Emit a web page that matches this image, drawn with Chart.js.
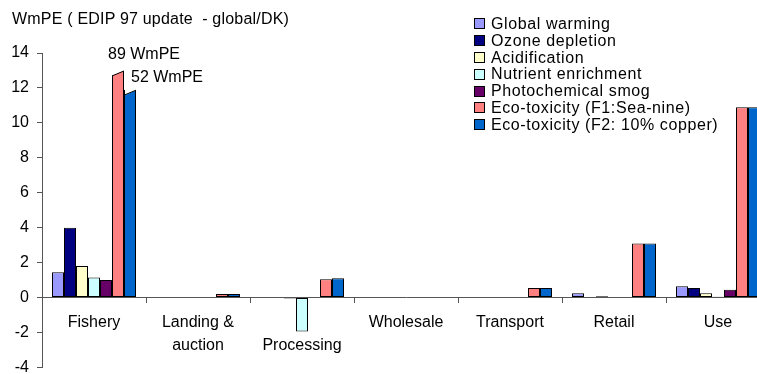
<!DOCTYPE html>
<html>
<head>
<meta charset="utf-8">
<script src="https://cdn.jsdelivr.net/npm/chart.js@4.4.1/dist/chart.umd.min.js"></script>
<style>
  html, body { margin: 0; padding: 0; background: #fff; overflow: hidden; }
  body { width: 757px; height: 374px; position: relative; font-family: "Liberation Sans", Arial, sans-serif; color: #000; }
  #wrap { position: absolute; left: 0; top: 0; width: 757px; height: 374px; overflow: hidden; }
  #chart { position: absolute; left: 0; top: 0; }
  #title { position: absolute; left: 12px; top: 10px; font-size: 16px; line-height: 18px; white-space: pre; letter-spacing: 0.2px; }
  #legend { position: absolute; left: 474px; top: 15.6px; font-size: 16px; }
  .row { display: flex; align-items: center; height: 16.8px; white-space: nowrap; letter-spacing: 0.6px; }
  .box { width: 9px; height: 9px; border: 1px solid #000; margin-right: 6px; flex: none; }
</style>
</head>
<body>
<div id="wrap"><canvas id="chart" width="775" height="385"></canvas></div>
<div id="title">WmPE ( EDIP 97 update  - global/DK)</div>
<div id="legend"></div>
<script>
// categories along the x axis (arrays = multi-line labels)
const categories = ["Fishery", ["Landing &", "auction"], ["", "Processing"], "Wholesale", "Transport", "Retail", "Use"];

// series values (WmPE)
const globalWarming      = [1.45, null, null,  null, null, 0.25, 0.65];
const ozoneDepletion     = [4.0,  null, null,  null, null, null, 0.55];
const acidification      = [1.8,  null, -0.05, null, null, 0.08, 0.25];
const nutrientEnrichment = [1.15, null, -1.95, null, null, null, 0.05];
const photochemicalSmog  = [1.0,  null, null,  null, null, null, 0.45];
const ecoToxSeaNine      = [13.0, 0.2,  1.05,  null, 0.55, 3.1,  10.9];
const ecoToxCopper       = [11.9, 0.2,  1.1,   null, 0.55, 3.1,  10.9];

const seriesNames = [
  "Global warming", "Ozone depletion", "Acidification", "Nutrient enrichment",
  "Photochemical smog", "Eco-toxicity (F1:Sea-nine)", "Eco-toxicity (F2: 10% copper)"
];
const seriesColors = ["#9999FF", "#000080", "#FFFFCC", "#CCFFFF", "#660066", "#FF8080", "#0066CC"];
const seriesValues = [globalWarming, ozoneDepletion, acidification, nutrientEnrichment,
  photochemicalSmog, ecoToxSeaNine, ecoToxCopper];

// y axis ticks
const yMin = -4, yMax = 14, yStep = 2;

// labels above the cut-off Fishery eco-toxicity bars
const breakLabels = ["89 WmPE", "52 WmPE"];

const fontFamily = '"Liberation Sans", Arial, sans-serif';
const axisColor = "#555";

// legend as html
const legendEl = document.getElementById("legend");
seriesNames.forEach((name, i) => {
  const row = document.createElement("div");
  row.className = "row";
  const box = document.createElement("span");
  box.className = "box";
  box.style.background = seriesColors[i];
  row.appendChild(box);
  row.appendChild(document.createTextNode(name));
  legendEl.appendChild(row);
});

// cut the top of the two off-scale bars at a slant and write their real totals
const breakPlugin = {
  id: "breakTops",
  afterDatasetsDraw(chart) {
    const ctx = chart.ctx;
    [5, 6].forEach((di, k) => {
      const bar = chart.getDatasetMeta(di).data[0];
      const left = bar.x - bar.width / 2;
      const right = bar.x + bar.width / 2;
      const top = bar.y;
      const drop = 5;
      ctx.save();
      ctx.fillStyle = "#fff";
      ctx.beginPath();
      ctx.moveTo(left + (k ? 1 : -1), top - 1);
      ctx.lineTo(right + 1, top - 1);
      ctx.lineTo(right + 1, top);
      ctx.lineTo(left + (k ? 1 : -1), top + drop + 0.5);
      ctx.closePath();
      ctx.fill();
      ctx.strokeStyle = "#000";
      ctx.lineWidth = 1;
      ctx.beginPath();
      ctx.moveTo(left, top + drop + 0.5);
      ctx.lineTo(right, top + 0.5);
      ctx.stroke();

      ctx.fillStyle = "#000";
      ctx.font = "16px " + fontFamily;
      ctx.textAlign = "left";
      ctx.textBaseline = "middle";
      if (k === 0) ctx.fillText(breakLabels[0], left - 4, top - 16);
      else ctx.fillText(breakLabels[1], left + 7, top - 12);
      ctx.restore();
    });
  }
};

new Chart(document.getElementById("chart"), {
  type: "bar",
  data: {
    labels: categories,
    datasets: seriesValues.map((vals, i) => ({
      label: seriesNames[i],
      data: vals,
      backgroundColor: seriesColors[i],
      borderColor: "#000",
      borderWidth: 1,
      borderSkipped: false,
      inflateAmount: 0,
      categoryPercentage: 84 / 104,
      barPercentage: 1
    }))
  },
  options: {
    responsive: false,
    animation: false,
    devicePixelRatio: 1,
    layout: { padding: { top: 53, left: 0, right: 5, bottom: 7 } },
    plugins: { legend: { display: false }, tooltip: { enabled: false } },
    scales: {
      x: {
        axis: "x",
        type: "category",
        position: { y: 0 },
        grid: { offset: true, drawOnChartArea: false, tickLength: 5, color: axisColor },
        border: { color: axisColor, width: 1 },
        ticks: {
          color: "#000",
          font: { family: fontFamily, size: 16, lineHeight: 1.4 },
          padding: 9,
          maxRotation: 0,
          autoSkip: false
        }
      },
      y: {
        min: yMin,
        max: yMax,
        grid: { drawOnChartArea: false, tickLength: 5, color: axisColor },
        border: { color: axisColor, width: 1 },
        ticks: {
          stepSize: yStep,
          color: "#000",
          font: { family: fontFamily, size: 16 },
          padding: 8
        },
        afterFit: (scale) => { scale.width = 42; }
      }
    }
  },
  plugins: [breakPlugin]
});
</script>
</body>
</html>
